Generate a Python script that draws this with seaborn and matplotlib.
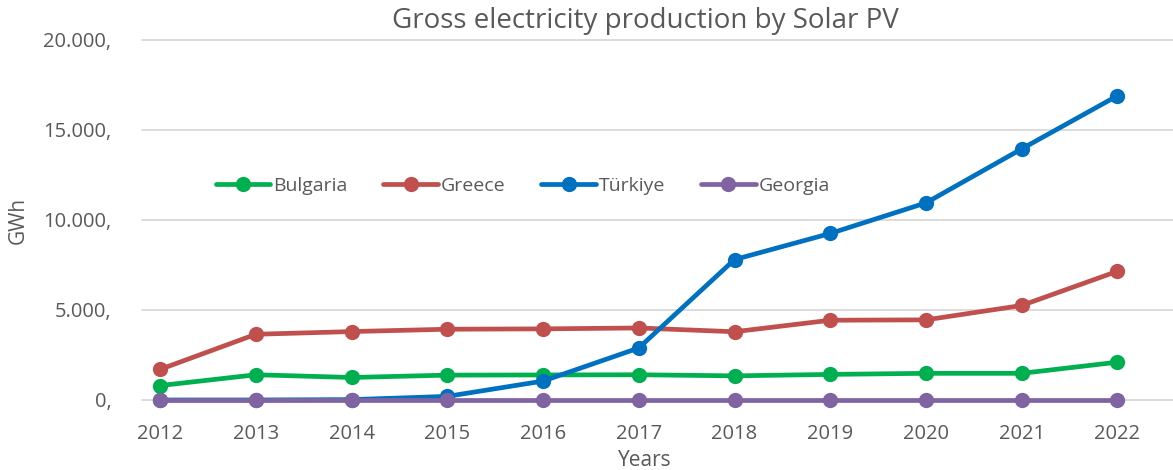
import matplotlib
matplotlib.use("Agg")
import matplotlib.pyplot as plt
import seaborn as sns
import pandas as pd

years = [2012, 2013, 2014, 2015, 2016, 2017, 2018, 2019, 2020, 2021, 2022]
bulgaria = [800, 1400, 1250, 1380, 1390, 1400, 1340, 1420, 1480, 1480, 2100]
greece = [1700, 3650, 3800, 3930, 3950, 4000, 3790, 4430, 4450, 5250, 7150]
turkiye = [0, 0, 20, 200, 1050, 2890, 7800, 9250, 10950, 13950, 16900]
georgia = [0, 0, 0, 0, 0, 0, 0, 0, 0, 0, 0]
countries = ["Bulgaria", "Greece", "Türkiye", "Georgia"]
colors = ["#00B050", "#C0504D", "#0070C0", "#8064A2"]
y_ticks = [0, 5000, 10000, 15000, 20000]
y_tick_labels = ["0,", "5.000,", "10.000,", "15.000,", "20.000,"]

rows = []
for name, vals in zip(countries, [bulgaria, greece, turkiye, georgia]):
    for i, v in enumerate(vals):
        rows.append({"idx": i, "value": v, "country": name})
df = pd.DataFrame(rows)

sns.set_style("white")
plt.rcParams["font.family"] = ["Open Sans", "DejaVu Sans"]
text_col = "#595959"

fig = plt.figure(figsize=(11.73, 4.70), dpi=100)
ax = fig.add_axes([0.121, 0.149, 0.879, 0.766])

for y in y_ticks:
    ax.axhline(y, color="#D9D9D9", lw=1.3, zorder=0)

sns.lineplot(data=df, x="idx", y="value", hue="country", hue_order=countries,
             palette=colors, marker="o", markersize=11, markeredgewidth=0,
             linewidth=3.4, ax=ax, legend=True)

ax.set_xlim(-0.19, 10.58)
ax.set_ylim(0, 20000)
ax.set_yticks(y_ticks)
ax.set_yticklabels(y_tick_labels, fontsize=14.5, color=text_col)
ax.set_xticks(range(len(years)))
ax.set_xticklabels([str(y) for y in years], fontsize=14.5, color=text_col)
ax.tick_params(axis="both", length=0)
ax.tick_params(axis="x", pad=17)
ax.tick_params(axis="y", pad=22)
for s in ax.spines.values():
    s.set_visible(False)
for line in ax.lines:
    line.set_clip_on(False)

ax.set_xlabel("")
ax.set_ylabel("GWh", fontsize=15, color=text_col, labelpad=10)
fig.text(0.55, 0.021, "Years", fontsize=15, color=text_col, ha="center", va="center")
fig.text(0.55, 0.955, "Gross electricity production by Solar PV", fontsize=20,
         color=text_col, ha="center", va="center")

leg = ax.legend(loc="center left", bbox_to_anchor=(0.169, 0.604, 0.6, 0.0),
                bbox_transform=fig.transFigure, ncol=4, frameon=False,
                fontsize=14, handlelength=2.8, columnspacing=1.85, handletextpad=0.15,
                labelcolor=text_col)

fig.savefig("out.png", dpi=100)
